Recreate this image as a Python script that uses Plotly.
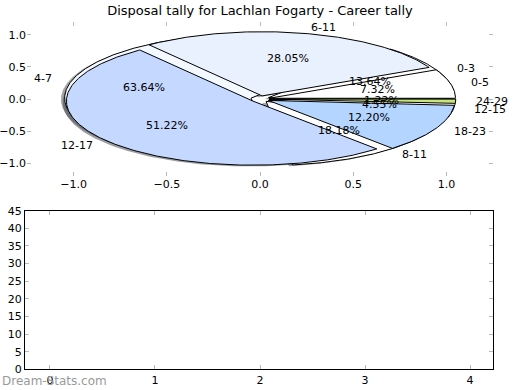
import numpy as np
import plotly.graph_objects as go

# ---------------- data ----------------
title_text = "Disposal tally for Lachlan Fogarty - Career tally"

pie1_labels = ["0-5", "6-11", "12-17", "18-23", "24-29"]
pie1_values = [6, 23, 42, 10, 1]
pie1_colors = ["#FFFFFF", "#EAF1FE", "#C5D8FF", "#B3D5FF", "#C8E87A"]

pie2_labels = ["0-3", "4-7", "8-11", "12-15"]
pie2_values = [3, 14, 4, 1]
pie2_colors = ["#FFFFFF", "#F4F8FF", "#FFFFFF", "#FFFFFF"]

pie_xticks = [-1.0, -0.5, 0.0, 0.5, 1.0]
pie_xtick_text = ["\u22121.0", "\u22120.5", "0.0", "0.5", "1.0"]
pie_yticks = [-1.0, -0.5, 0.0, 0.5, 1.0]
pie_ytick_text = ["\u22121.0", "\u22120.5", "0.0", "0.5", "1.0"]

bar_xticks = [0, 1, 2, 3, 4]
bar_yticks = [0, 5, 10, 15, 20, 25, 30, 35, 40, 45]

EXPLODE = 0.05
LABEL_DIST = 1.1
PCT_DIST = 0.6
SHADOW_OFF = -0.02
FONT = "DejaVu Sans"

W, H = 520, 390


def build_wedges(values):
    total = float(sum(values))
    t0 = 0.0
    res = []
    for v in values:
        frac = v / total
        t1 = t0 + frac * 2 * np.pi
        tm = 0.5 * (t0 + t1)
        cx, cy = EXPLODE * np.cos(tm), EXPLODE * np.sin(tm)
        th = np.linspace(t0, t1, max(int(frac * 720), 6))
        xs = np.concatenate([[cx], cx + np.cos(th), [cx]])
        ys = np.concatenate([[cy], cy + np.sin(th), [cy]])
        res.append(dict(xs=xs, ys=ys, tm=tm, cx=cx, cy=cy, frac=frac))
        t0 = t1
    return res


def shade(hexcol):
    h = hexcol.lstrip("#")
    r, g, b = (int(h[i:i + 2], 16) for i in (0, 2, 4))
    return "rgba(%d,%d,%d,0.5)" % (0.3 * r, 0.3 * g, 0.3 * b)


fig = go.Figure()

w1 = build_wedges(pie1_values)
w2 = build_wedges(pie2_values)

# shadows (drawn below all wedges)
for wed, cols in ((w2, pie2_colors), (w1, pie1_colors)):
    for w, c in zip(wed, cols):
        fig.add_trace(go.Scatter(x=w["xs"] + SHADOW_OFF, y=w["ys"] + SHADOW_OFF,
                                 mode="lines", fill="toself", fillcolor=shade(c),
                                 line=dict(width=0, color="rgba(0,0,0,0)"),
                                 hoverinfo="skip", showlegend=False,
                                 xaxis="x", yaxis="y"))

# wedges: second pie first, then first pie on top
for wed, cols in ((w2, pie2_colors), (w1, pie1_colors)):
    for w, c in zip(wed, cols):
        fig.add_trace(go.Scatter(x=w["xs"], y=w["ys"], mode="lines", fill="toself",
                                 fillcolor=c, line=dict(width=1, color="black"),
                                 hoverinfo="skip", showlegend=False,
                                 xaxis="x", yaxis="y"))

annotations = []
for wed, labs in ((w2, pie2_labels), (w1, pie1_labels)):
    for w, lab in zip(wed, labs):
        lx = w["cx"] + LABEL_DIST * np.cos(w["tm"])
        ly = w["cy"] + LABEL_DIST * np.sin(w["tm"])
        annotations.append(dict(x=lx, y=ly, xref="x", yref="y", text=lab,
                                showarrow=False, xanchor="left" if lx > 0 else "right",
                                yanchor="middle", font=dict(family=FONT, size=11, color="black")))
        px = w["cx"] + PCT_DIST * np.cos(w["tm"])
        py = w["cy"] + PCT_DIST * np.sin(w["tm"])
        annotations.append(dict(x=px, y=py, xref="x", yref="y",
                                text="%.2f%%" % (w["frac"] * 100),
                                showarrow=False, xanchor="center", yanchor="middle",
                                font=dict(family=FONT, size=11, color="black")))

annotations.append(dict(x=0.0, y=(H - 381) / H, xref="paper", yref="paper",
                        text="Dream-Stats.com", showarrow=False, xanchor="left",
                        yanchor="middle", font=dict(family=FONT, size=12, color="#9a9a9a")))

tick_common = dict(ticks="inside", ticklen=4, tickwidth=1, tickcolor="#b8b8b8",
                   showgrid=False, zeroline=False, automargin=False,
                   tickfont=dict(family=FONT, size=11, color="black"))

fig.update_layout(
    width=W, height=H,
    margin=dict(l=0, r=0, t=0, b=0),
    paper_bgcolor="white", plot_bgcolor="rgba(0,0,0,0)",
    title=dict(text=title_text, x=0.5, xanchor="center", y=(H - 10) / H,
               yanchor="middle", font=dict(family=FONT, size=13, color="black")),
    xaxis=dict(domain=[27 / W, 493 / W], range=[-1.25, 1.25], anchor="y",
               tickvals=pie_xticks, ticktext=pie_xtick_text, showline=False,
               mirror="ticks", **tick_common),
    yaxis=dict(domain=[(H - 176) / H, (H - 22) / H], range=[-1.2, 1.2], anchor="x",
               tickvals=pie_yticks, ticktext=pie_ytick_text, showline=False,
               mirror="ticks", **tick_common),
    xaxis2=dict(domain=[25 / W, 493 / W], range=[-0.238, 4.219], anchor="y2",
                tickvals=bar_xticks, ticktext=[str(v) for v in bar_xticks],
                showline=True, linecolor="black", linewidth=1, mirror="ticks",
                **tick_common),
    yaxis2=dict(domain=[(H - 369.3) / H, (H - 210.7) / H], range=[0, 45], anchor="x2",
                tickvals=bar_yticks, ticktext=[str(v) for v in bar_yticks],
                showline=True, linecolor="black", linewidth=1, mirror="ticks",
                **tick_common),
    annotations=annotations,
)

# empty lower panel trace so the axes are rendered
fig.add_trace(go.Scatter(x=[], y=[], xaxis="x2", yaxis="y2", showlegend=False))

fig.write_html("out.html",
               config={"displayModeBar": False, "staticPlot": True},
               post_script="document.body.style.margin='0';document.body.style.overflow='hidden';")
